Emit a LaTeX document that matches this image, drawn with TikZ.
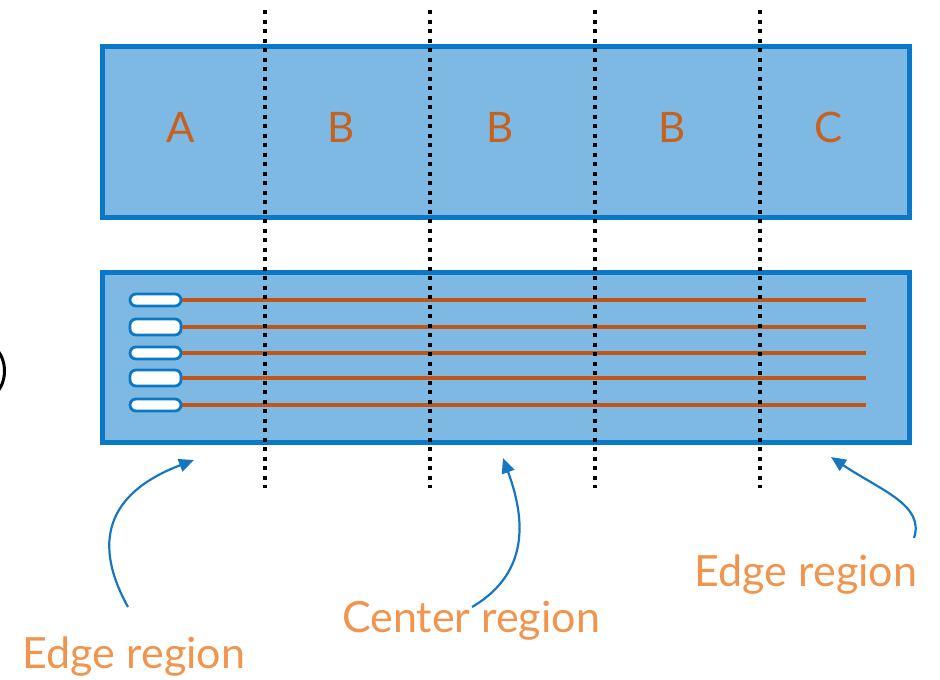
\documentclass[tikz,border=0pt]{standalone}
\usepackage{fontspec}
\setmainfont{Lato}
\usetikzlibrary{arrows.meta}
\definecolor{boxfill}{HTML}{7DB9E2}
\definecolor{boxline}{HTML}{0A78C6}
\definecolor{wire}{HTML}{C0561A}
\definecolor{lettc}{HTML}{C8611E}
\definecolor{labc}{HTML}{F0944E}
\definecolor{arrc}{HTML}{1677C0}
\tikzset{
  panel/.style={draw=boxline, line width=4.5pt, fill=boxfill},
  divider/.style={black, line width=4pt, dash pattern=on 4pt off 5.5pt},
  pill/.style={draw=boxline, line width=2.8pt, fill=white, rounded corners=6pt},
  wireline/.style={wire, line width=3.8pt},
  letter/.style={text=lettc, font=\fontsize{42}{44}\selectfont},
  regionlabel/.style={text=labc, font=\fontsize{43}{46}\selectfont},
  pointer/.style={arrc, line width=2.2pt, -{Triangle[length=15pt,width=13pt]}}
}
\begin{document}
\begin{tikzpicture}[x=1pt,y=-1pt]
\useasboundingbox (0,0) rectangle (940,680);
% panels
\node[panel, minimum width=807pt, minimum height=171pt, anchor=north west, inner sep=0pt] (top) at (100,44) {};
\node[panel, minimum width=807pt, minimum height=170pt, anchor=north west, inner sep=0pt] (bot) at (100,270) {};
% pills and wires
\foreach \y/\h [count=\i] in {300/12,327/16,353/12,378/16,405/12}{
  \node[pill, minimum width=51pt, minimum height=\h pt, inner sep=0pt] (p\i) at (155.5,\y) {};
  \coordinate (w\i) at (866,\y);
  \draw[wireline] (p\i.east) -- (w\i);
}
% dividers
\foreach \x [count=\i] in {265,430,595,760}{
  \coordinate (d\i t) at (\x,10);
  \coordinate (d\i b) at (\x,488);
  \draw[divider] (d\i t) -- (d\i b);
}
% letters
\node[letter] (la) at (181,127) {A};
\node[letter] (lb1) at (341,127) {B};
\node[letter] (lb2) at (500,127) {B};
\node[letter] (lb3) at (672,127) {B};
\node[letter] (lc) at (829,127) {C};
% labels
\node[regionlabel] (e1) at (134,657) {Edge region};
\node[regionlabel] (cr) at (471,621) {Center region};
\node[regionlabel] (e2) at (806,575) {Edge region};
% arrows
\coordinate (s1) at (128,607);
\coordinate (t1) at (194,460);
\coordinate (s2) at (472,607);
\coordinate (t2) at (503,458);
\coordinate (s3) at (914,538);
\coordinate (t3) at (831,457);
\draw[pointer] (s1) .. controls (88,535) and (115,490) .. (t1);
\draw[pointer] (s2) .. controls (535,570) and (522,510) .. (t2);
\draw[pointer] (s3) .. controls (925,505) and (880,490) .. (t3);
% partial bracket at left edge
\draw[black, line width=3pt] (-6,347) .. controls (8,358) and (8,384) .. (-6,395);
\end{tikzpicture}
\end{document}
